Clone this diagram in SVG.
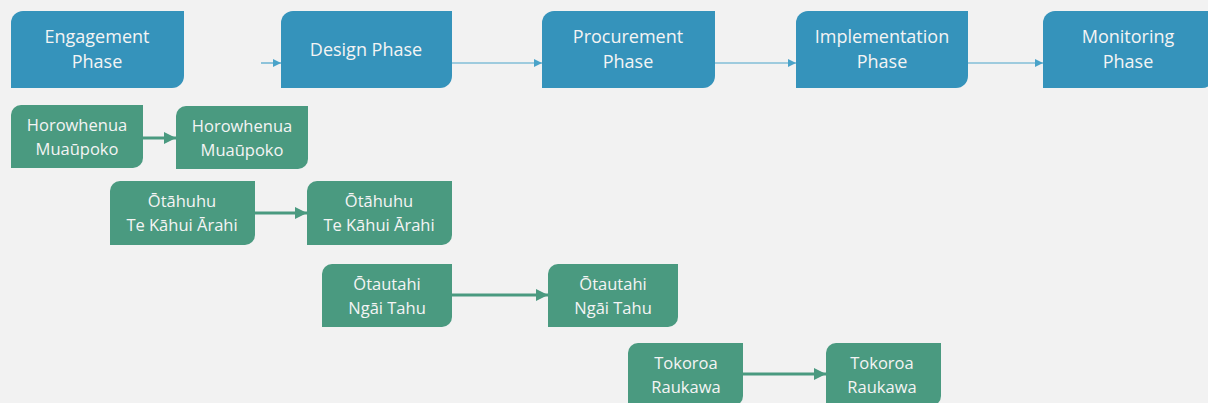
<svg xmlns="http://www.w3.org/2000/svg" width="1208" height="403" viewBox="0 0 1208 403">
  <style>
    .phase { fill: #3593bb; }
    .team { fill: #4a9a80; }
    .lbl { font-family: "Open Sans", "Liberation Sans", sans-serif; fill: #f4f4f4; text-anchor: middle; }
    .plbl { font-size: 18px; }
    .tlbl { font-size: 16.5px; }
    .flow { stroke: #4aa3c9; stroke-width: 1.2; fill: none; }
    .link { stroke: #4a9a80; stroke-width: 3; fill: none; }
  </style>
  <defs>
    <marker id="blueHead" viewBox="0 0 10 10" refX="10" refY="5" markerWidth="8" markerHeight="8" markerUnits="userSpaceOnUse" orient="auto">
      <path d="M0,0 L10,5 L0,10 Z" fill="#4aa3c9"/>
    </marker>
    <marker id="greenHead" viewBox="0 0 10 10" refX="10" refY="5" markerWidth="12" markerHeight="12" markerUnits="userSpaceOnUse" orient="auto">
      <path d="M0,0 L10,5 L0,10 Z" fill="#4a9a80"/>
    </marker>
  </defs>
  <rect width="1208" height="403" fill="#f2f2f2"/>

  <!-- phase pipeline -->
  <g id="engagement">
    <path class="phase" d="M23,11 H184 V76 A12,12 0 0 1 172,88 H11 V23 A12,12 0 0 1 23,11 Z"/>
    <text class="lbl plbl" x="97" y="43">Engagement</text>
    <text class="lbl plbl" x="97" y="68">Phase</text>
  </g>
  <g id="design">
    <path class="phase" d="M293,11 H452 V76 A12,12 0 0 1 440,88 H281 V23 A12,12 0 0 1 293,11 Z"/>
    <text class="lbl plbl" x="366" y="56">Design Phase</text>
  </g>
  <g id="procurement">
    <path class="phase" d="M554,11 H715 V76 A12,12 0 0 1 703,88 H542 V23 A12,12 0 0 1 554,11 Z"/>
    <text class="lbl plbl" x="628" y="43">Procurement</text>
    <text class="lbl plbl" x="628" y="68">Phase</text>
  </g>
  <g id="implementation">
    <path class="phase" d="M808,11 H968 V76 A12,12 0 0 1 956,88 H796 V23 A12,12 0 0 1 808,11 Z"/>
    <text class="lbl plbl" x="882" y="43">Implementation</text>
    <text class="lbl plbl" x="882" y="68">Phase</text>
  </g>
  <g id="monitoring">
    <path class="phase" d="M1055,11 H1214 V76 A12,12 0 0 1 1202,88 H1043 V23 A12,12 0 0 1 1055,11 Z"/>
    <text class="lbl plbl" x="1128" y="43">Monitoring</text>
    <text class="lbl plbl" x="1128" y="68">Phase</text>
  </g>

  <!-- team pairs -->
  <g id="horowhenua-a">
    <path class="team" d="M21,105 H143 V158 A10,10 0 0 1 133,168 H11 V115 A10,10 0 0 1 21,105 Z"/>
    <text class="lbl tlbl" x="77" y="131">Horowhenua</text>
    <text class="lbl tlbl" x="77" y="155">Muaūpoko</text>
  </g>
  <g id="horowhenua-b">
    <path class="team" d="M186,106 H308 V159 A10,10 0 0 1 298,169 H176 V116 A10,10 0 0 1 186,106 Z"/>
    <text class="lbl tlbl" x="242" y="132">Horowhenua</text>
    <text class="lbl tlbl" x="242" y="156">Muaūpoko</text>
  </g>
  <g id="otahuhu-a">
    <path class="team" d="M120,181 H255 V235 A10,10 0 0 1 245,245 H110 V191 A10,10 0 0 1 120,181 Z"/>
    <text class="lbl tlbl" x="182" y="207">Ōtāhuhu</text>
    <text class="lbl tlbl" x="182" y="231">Te Kāhui Ārahi</text>
  </g>
  <g id="otahuhu-b">
    <path class="team" d="M317,181 H452 V235 A10,10 0 0 1 442,245 H307 V191 A10,10 0 0 1 317,181 Z"/>
    <text class="lbl tlbl" x="379" y="207">Ōtāhuhu</text>
    <text class="lbl tlbl" x="379" y="231">Te Kāhui Ārahi</text>
  </g>
  <g id="otautahi-a">
    <path class="team" d="M332,264 H452 V317 A10,10 0 0 1 442,327 H322 V274 A10,10 0 0 1 332,264 Z"/>
    <text class="lbl tlbl" x="387" y="290">Ōtautahi</text>
    <text class="lbl tlbl" x="387" y="314">Ngāi Tahu</text>
  </g>
  <g id="otautahi-b">
    <path class="team" d="M558,264 H678 V317 A10,10 0 0 1 668,327 H548 V274 A10,10 0 0 1 558,264 Z"/>
    <text class="lbl tlbl" x="613" y="290">Ōtautahi</text>
    <text class="lbl tlbl" x="613" y="314">Ngāi Tahu</text>
  </g>
  <g id="tokoroa-a">
    <path class="team" d="M638,343 H743 V396 A10,10 0 0 1 733,406 H628 V353 A10,10 0 0 1 638,343 Z"/>
    <text class="lbl tlbl" x="686" y="369">Tokoroa</text>
    <text class="lbl tlbl" x="686" y="393">Raukawa</text>
  </g>
  <g id="tokoroa-b">
    <path class="team" d="M836,343 H941 V396 A10,10 0 0 1 931,406 H826 V353 A10,10 0 0 1 836,343 Z"/>
    <text class="lbl tlbl" x="882" y="369">Tokoroa</text>
    <text class="lbl tlbl" x="882" y="393">Raukawa</text>
  </g>

  <!-- connectors -->
  <g id="connectors">
    <line class="flow" x1="261" y1="63" x2="281" y2="63" marker-end="url(#blueHead)"/>
    <line class="flow" x1="452" y1="63" x2="542" y2="63" marker-end="url(#blueHead)"/>
    <line class="flow" x1="715" y1="63" x2="796" y2="63" marker-end="url(#blueHead)"/>
    <line class="flow" x1="968" y1="63" x2="1043" y2="63" marker-end="url(#blueHead)"/>
    <line class="link" x1="143" y1="138" x2="176" y2="138" marker-end="url(#greenHead)"/>
    <line class="link" x1="255" y1="213" x2="307" y2="213" marker-end="url(#greenHead)"/>
    <line class="link" x1="452" y1="295" x2="548" y2="295" marker-end="url(#greenHead)"/>
    <line class="link" x1="743" y1="374" x2="826" y2="374" marker-end="url(#greenHead)"/>
  </g>
</svg>
